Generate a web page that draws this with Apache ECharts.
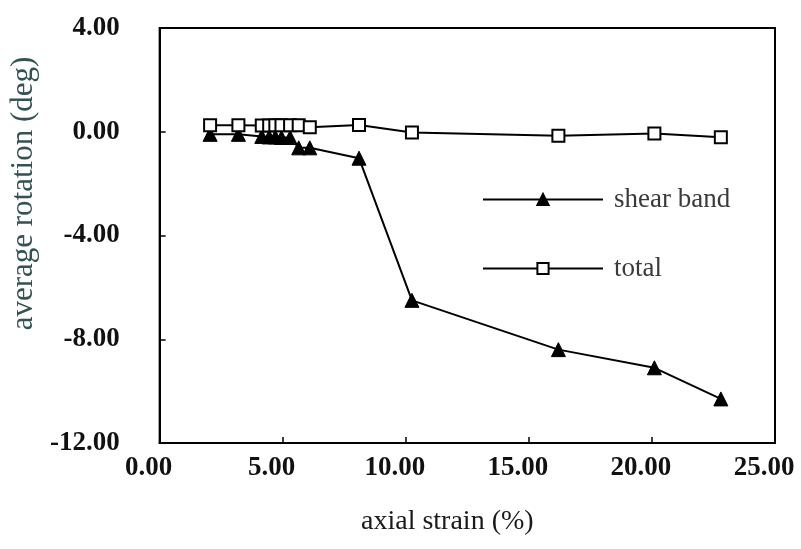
<!DOCTYPE html>
<html>
<head>
<meta charset="utf-8">
<script src="https://cdn.jsdelivr.net/npm/echarts@6/dist/echarts.min.js"></script>
<style>
  html, body { margin: 0; padding: 0; background: #fff; }
  #chart { width: 801px; height: 549px; }
</style>
</head>
<body>
<div id="chart"></div>
<script>
// Axial strain (%) at each measurement stage
const strain = [2.05, 3.2, 4.15, 4.45, 4.7, 4.95, 5.3, 5.65, 6.1, 8.1, 10.25, 16.2, 20.1, 22.8];
// Average rotation (deg) inside the shear band
const shearBand = [-0.1, -0.1, -0.18, -0.2, -0.2, -0.22, -0.22, -0.62, -0.62, -1.02, -6.5, -8.4, -9.1, -10.3];
// Average rotation (deg) over the whole specimen
const total = [0.25, 0.25, 0.24, 0.24, 0.25, 0.25, 0.25, 0.25, 0.17, 0.26, -0.03, -0.15, -0.07, -0.21];

const seriesNames = ['shear band', 'total'];
const xAxisName = 'axial strain (%)';
const yAxisName = 'average rotation (deg)';

const pairs = (xs, ys) => xs.map((x, i) => [x, ys[i]]);
const serif = '"Liberation Serif", "Times New Roman", serif';

const chart = echarts.init(document.getElementById('chart'), null, { renderer: 'canvas' });
chart.setOption({
  animation: false,
  backgroundColor: '#fff',
  grid: {
    left: 158, right: 26, top: 28, bottom: 106,
    show: true, borderColor: '#000', borderWidth: 2
  },
  legend: {
    orient: 'vertical',
    left: 477, top: 181,
    itemGap: 42,
    itemWidth: 120, itemHeight: 14,
    textStyle: { fontFamily: serif, fontSize: 27, color: '#3a3a3a', padding: [0, 0, 0, 6] },
    data: seriesNames
  },
  xAxis: {
    type: 'value', min: 0, max: 25, interval: 5,
    name: xAxisName, nameLocation: 'middle', nameGap: 65,
    nameTextStyle: { fontFamily: serif, fontSize: 28, color: '#1a1a1a', padding: [0, 40, 0, 0] },
    axisLine: { onZero: false, lineStyle: { color: '#000', width: 2 } },
    axisTick: { inside: true, length: 6, lineStyle: { color: '#000', width: 1.5 } },
    axisLabel: {
      fontFamily: serif, fontSize: 27, fontWeight: 'bold', color: '#111', margin: 12,
      padding: [0, 22, 0, 0],
      formatter: v => v.toFixed(2)
    },
    splitLine: { show: false }
  },
  yAxis: {
    type: 'value', min: -12, max: 4, interval: 4,
    name: yAxisName, nameLocation: 'middle', nameGap: 113,
    nameTextStyle: { fontFamily: serif, fontSize: 31, color: '#345252', padding: [0, 0, 0, 84] },
    axisLine: { onZero: false, lineStyle: { color: '#000', width: 2 } },
    axisTick: { inside: true, length: 6, lineStyle: { color: '#000', width: 1.5 } },
    axisLabel: {
      fontFamily: serif, fontSize: 27, fontWeight: 'bold', color: '#111', margin: 40,
      padding: [0, 0, 24, 0],
      formatter: v => v.toFixed(2)
    },
    splitLine: { show: false }
  },
  series: [
    {
      name: seriesNames[0], type: 'line',
      data: pairs(strain, shearBand),
      symbol: 'triangle', symbolSize: 14,
      lineStyle: { color: '#000', width: 2 },
      itemStyle: { color: '#000', borderColor: '#000', borderWidth: 1 },
      z: 2
    },
    {
      name: seriesNames[1], type: 'line',
      data: pairs(strain, total),
      symbol: 'rect', symbolSize: 12,
      lineStyle: { color: '#000', width: 2 },
      itemStyle: { color: '#fff', borderColor: '#000', borderWidth: 2 },
      z: 3
    }
  ]
});
</script>
</body>
</html>
